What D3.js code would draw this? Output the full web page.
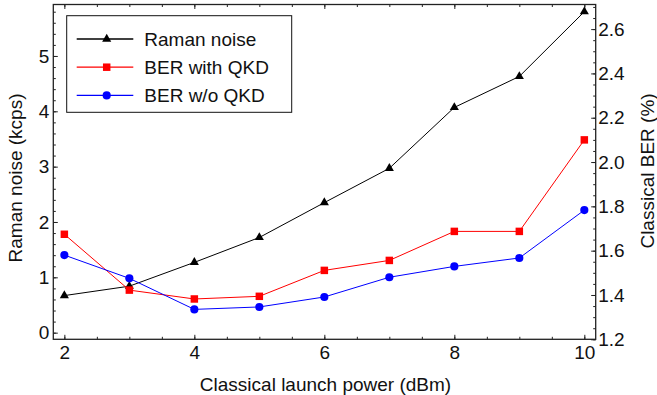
<!DOCTYPE html>
<html>
<head>
<meta charset="utf-8">
<script src="https://cdn.jsdelivr.net/npm/d3@7"></script>
<style>
  body { margin: 0; background: #fff; }
  svg text { font-family: "Liberation Sans", Arial, sans-serif; fill: #111; }
</style>
</head>
<body>
<div id="chart"></div>
<script>
// launch power (dBm)
var power = [2, 3, 4, 5, 6, 7, 8, 9, 10];
// Raman noise, kcps (left axis)
var ramanNoise = [0.67, 0.84, 1.27, 1.72, 2.35, 2.97, 4.07, 4.63, 5.80];
// classical BER, % (right axis)
var berWithQkd = [1.674, 1.422, 1.382, 1.394, 1.511, 1.556, 1.687, 1.687, 2.10];
var berWithoutQkd = [1.580, 1.475, 1.335, 1.346, 1.391, 1.480, 1.529, 1.567, 1.783];

var xTicks = [2, 4, 6, 8, 10];
var leftTicks = [0, 1, 2, 3, 4, 5];
var rightTicks = [1.2, 1.4, 1.6, 1.8, 2.0, 2.2, 2.4, 2.6];
var seriesNames = ['Raman noise', 'BER with QKD', 'BER w/o QKD'];

var width = 657, height = 395;
var plot = { left: 53.3, right: 595.7, top: 4.5, bottom: 339.3 };
var fontSize = 19;
var axisColor = '#222';

var svg = d3.select('#chart')
  .append('svg')
  .attr('width', width)
  .attr('height', height);

var x = d3.scaleLinear().domain([1.83, 10.175]).range([plot.left, plot.right]);
var yLeft = d3.scaleLinear().domain([-0.12, 5.93]).range([plot.bottom, plot.top]);
var yRight = d3.scaleLinear().domain([1.2, 2.711]).range([plot.bottom, plot.top]);

function styleAxis(g) {
  g.select('.domain').remove();
  g.attr('font-size', fontSize).attr('font-family', null);
  g.selectAll('.tick line').attr('stroke', axisColor).attr('stroke-width', 1);
  g.selectAll('.tick text').attr('fill', '#111');
}

// minor ticks (no labels)
var xMinor = d3.range(2, 10.01, 0.5);
var leftMinor = d3.range(0, 5.81, 0.2);
var rightMinor = d3.range(1.2, 2.701, 0.05);

svg.append('g')
  .attr('transform', 'translate(0,' + plot.bottom + ')')
  .call(d3.axisBottom(x).tickValues(xMinor).tickSize(-2.5).tickFormat(''))
  .call(styleAxis);
svg.append('g')
  .attr('transform', 'translate(0,' + plot.top + ')')
  .call(d3.axisTop(x).tickValues(xMinor).tickSize(-2.5).tickFormat(''))
  .call(styleAxis);
svg.append('g')
  .attr('transform', 'translate(' + plot.left + ',0)')
  .call(d3.axisLeft(yLeft).tickValues(leftMinor).tickSize(-2.5).tickFormat(''))
  .call(styleAxis);
svg.append('g')
  .attr('transform', 'translate(' + plot.right + ',0)')
  .call(d3.axisRight(yRight).tickValues(rightMinor).tickSize(-2.5).tickFormat(''))
  .call(styleAxis);

// major ticks with labels
svg.append('g')
  .attr('transform', 'translate(0,' + plot.bottom + ')')
  .call(d3.axisBottom(x).tickValues(xTicks).tickSize(-4.5).tickPadding(6).tickFormat(d3.format('d')))
  .call(styleAxis);
svg.append('g')
  .attr('transform', 'translate(0,' + plot.top + ')')
  .call(d3.axisTop(x).tickValues(xTicks).tickSize(-4.5).tickFormat(''))
  .call(styleAxis);
svg.append('g')
  .attr('transform', 'translate(' + plot.left + ',0)')
  .call(d3.axisLeft(yLeft).tickValues(leftTicks).tickSize(-4.5).tickPadding(4).tickFormat(d3.format('d')))
  .call(styleAxis);
svg.append('g')
  .attr('transform', 'translate(' + plot.right + ',0)')
  .call(d3.axisRight(yRight).tickValues(rightTicks).tickSize(-4.5).tickPadding(2.5).tickFormat(d3.format('.1f')))
  .call(styleAxis);

// frame
svg.append('rect')
  .attr('x', plot.left)
  .attr('y', plot.top)
  .attr('width', plot.right - plot.left)
  .attr('height', plot.bottom - plot.top)
  .attr('fill', 'none')
  .attr('stroke', axisColor)
  .attr('stroke-width', 1.3);

// axis titles
svg.append('text')
  .attr('x', (plot.left + plot.right) / 2 + 1)
  .attr('y', 390.5)
  .attr('text-anchor', 'middle')
  .attr('font-size', fontSize)
  .text('Classical launch power (dBm)');

svg.append('text')
  .attr('transform', 'translate(21.5,178) rotate(-90)')
  .attr('text-anchor', 'middle')
  .attr('font-size', fontSize)
  .text('Raman noise (kcps)');

svg.append('text')
  .attr('transform', 'translate(654,171) rotate(-90)')
  .attr('text-anchor', 'middle')
  .attr('font-size', fontSize)
  .text('Classical BER (%)');

// series
var series = [
  { name: seriesNames[0], values: ramanNoise, y: yLeft, color: '#000000', symbol: d3.symbolTriangle, size: 36 },
  { name: seriesNames[1], values: berWithQkd, y: yRight, color: '#ff0000', symbol: d3.symbolSquare, size: 56 },
  { name: seriesNames[2], values: berWithoutQkd, y: yRight, color: '#0000ff', symbol: d3.symbolCircle, size: 52 }
];

series.forEach(function (s) {
  var line = d3.line()
    .x(function (d, i) { return x(power[i]); })
    .y(function (d) { return s.y(d); });

  svg.append('path')
    .datum(s.values)
    .attr('d', line)
    .attr('fill', 'none')
    .attr('stroke', s.color)
    .attr('stroke-width', 1);

  svg.append('g')
    .selectAll('path')
    .data(s.values)
    .enter()
    .append('path')
    .attr('d', d3.symbol(s.symbol, s.size))
    .attr('transform', function (d, i) { return 'translate(' + x(power[i]) + ',' + s.y(d) + ')'; })
    .attr('fill', s.color);
});

// legend
var legend = svg.append('g').attr('transform', 'translate(66.7,15.7)');
legend.append('rect')
  .attr('width', 225)
  .attr('height', 96.6)
  .attr('fill', '#fff')
  .attr('stroke', '#111')
  .attr('stroke-width', 1);

var rows = legend.selectAll('.legend-row')
  .data(series)
  .enter()
  .append('g')
  .attr('class', 'legend-row')
  .attr('transform', function (d, i) { return 'translate(0,' + (23.3 + i * 28.2) + ')'; });

rows.append('line')
  .attr('x1', 10)
  .attr('x2', 66.6)
  .attr('stroke', function (d) { return d.color; })
  .attr('stroke-width', 1.3);
rows.append('path')
  .attr('d', function (d) { return d3.symbol(d.symbol, d.size)(); })
  .attr('transform', 'translate(40,0)')
  .attr('fill', function (d) { return d.color; });
rows.append('text')
  .attr('x', 77.6)
  .attr('dy', '0.35em')
  .attr('font-size', fontSize)
  .text(function (d) { return d.name; });
</script>
</body>
</html>
